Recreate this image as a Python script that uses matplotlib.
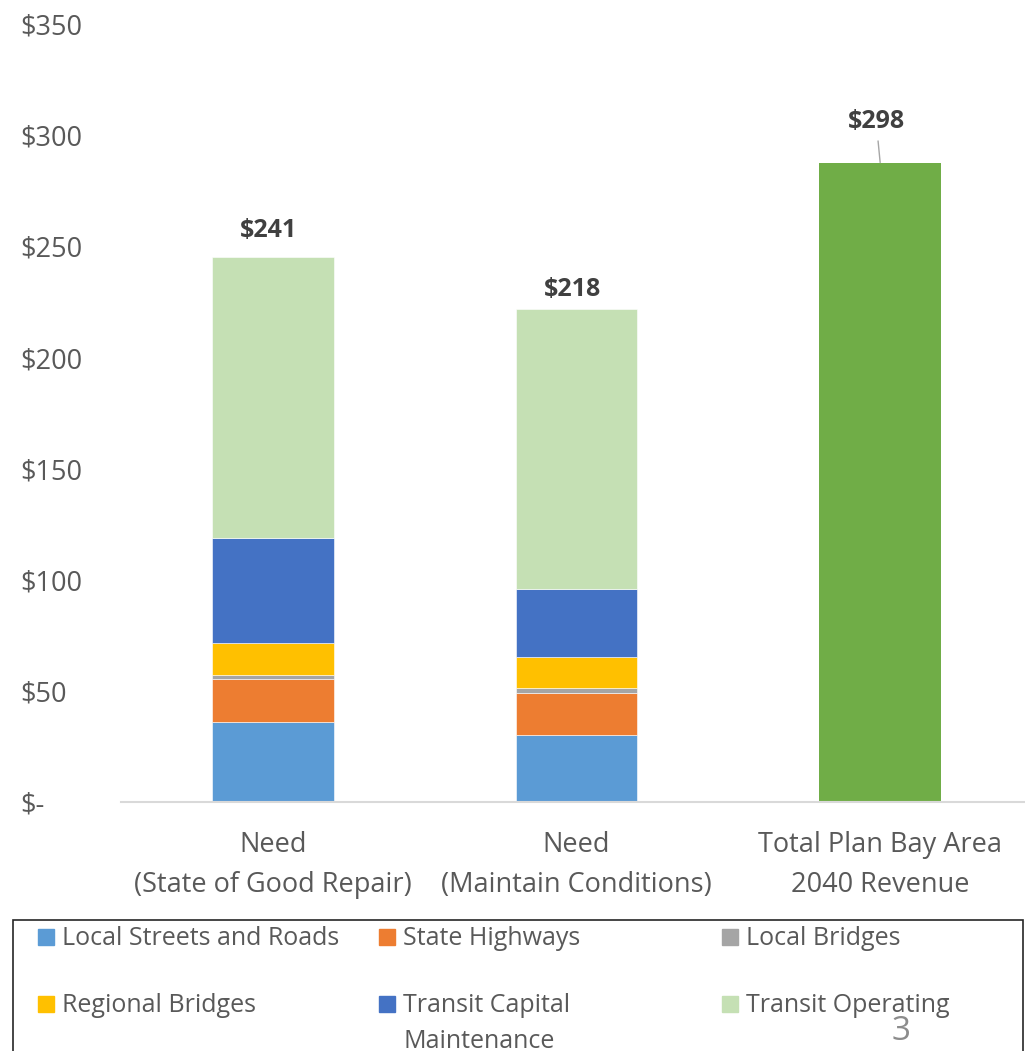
import matplotlib.pyplot as plt
import numpy as np
from matplotlib.patches import Rectangle

plt.rcParams['font.family'] = ['Open Sans', 'DejaVu Sans']

# values in $ billions
categories = ['Need\n(State of Good Repair)', 'Need\n(Maintain Conditions)',
              'Total Plan Bay Area\n2040 Revenue']
series = ['Local Streets and Roads', 'State Highways', 'Local Bridges',
          'Regional Bridges', 'Transit Capital\nMaintenance', 'Transit Operating']
local_streets = [36.0, 30.1, 0]
state_highways = [19.3, 18.9, 0]
local_bridges = [1.9, 2.4, 0]
regional_bridges = [14.3, 14.1, 0]
transit_capital = [47.5, 30.5, 0]
transit_operating = [126.3, 126.0, 0]
revenue = [0, 0, 287.7]
totals = [241, 218, 298]
yticks = [0, 50, 100, 150, 200, 250, 300, 350]
yticklabels = ['$-', '$50', '$100', '$150', '$200', '$250', '$300', '$350']

colors = ['#5b9bd5', '#ed7d31', '#a5a5a5', '#ffc000', '#4472c4', '#c5e0b4']
revenue_color = '#70ad47'
txt = '#595959'

W, H = 1025, 1051
fig = plt.figure(figsize=(W / 100, H / 100), dpi=100)
ax = fig.add_axes([121 / W, 1 - 802.3 / H, 911 / W, (802.3 - 24) / H])

x = np.arange(len(categories))
bottom = np.zeros(len(categories))
stack = [local_streets, state_highways, local_bridges, regional_bridges,
         transit_capital, transit_operating]
for vals, c in zip(stack, colors):
    ax.bar(x, vals, 0.4, bottom=bottom, color=c, edgecolor='white', linewidth=0.4)
    bottom += np.array(vals)
ax.bar(x, revenue, 0.4, bottom=bottom, color=revenue_color)
bottom += np.array(revenue)

# total labels above the bars
offsets = [26, 19, 41]
for i in range(len(categories)):
    if i == 2:
        ap = dict(arrowstyle='-', color='#a6a6a6', lw=1, shrinkA=3, shrinkB=0)
    else:
        ap = None
    ax.annotate('$%d' % totals[i], xy=(x[i], bottom[i]), xytext=(-4, offsets[i]),
                textcoords='offset pixels', ha='center', va='center',
                fontsize=18, fontweight='bold', color='#404040', arrowprops=ap)

ax.set_xlim(-0.5, 2.5)
ax.set_ylim(0, 350)
ax.set_yticks(yticks)
ax.set_yticklabels(yticklabels, fontsize=19.5, color=txt, ha='left')
ax.set_xticks(x)
ax.set_xticklabels(categories, fontsize=19.5, color=txt, linespacing=1.55)
ax.tick_params(axis='y', length=0, pad=72.5)
ax.tick_params(axis='x', length=0, pad=21)
for s in ['top', 'right', 'left']:
    ax.spines[s].set_visible(False)
ax.spines['bottom'].set_color('#d9d9d9')
ax.spines['bottom'].set_linewidth(1.5)

# legend box
fig.patches.append(Rectangle((13 / W, -0.05), 1010 / W, 0.05 + 1 - 920 / H,
                             transform=fig.transFigure, fill=False,
                             edgecolor='#262626', linewidth=1.2))
col_x = [38, 379, 722]
row_base = [945, 1012]
for k, name in enumerate(series):
    cx = col_x[k % 3]
    by = row_base[k // 3]
    fig.patches.append(Rectangle((cx / W, 1 - by / H), 16 / W, 16 / H,
                                 transform=fig.transFigure, color=colors[k]))
    lines = name.split('\n')
    for j, line in enumerate(lines):
        fig.text((cx + 24) / W, 1 - (by + 36 * j) / H, line, fontsize=18,
                 color=txt, ha='left', va='baseline')

fig.text(901 / W, 1 - 1032 / H, '3', fontsize=24, color='#8c8c8c',
         ha='center', va='center')

fig.savefig('out.png', dpi=100)
